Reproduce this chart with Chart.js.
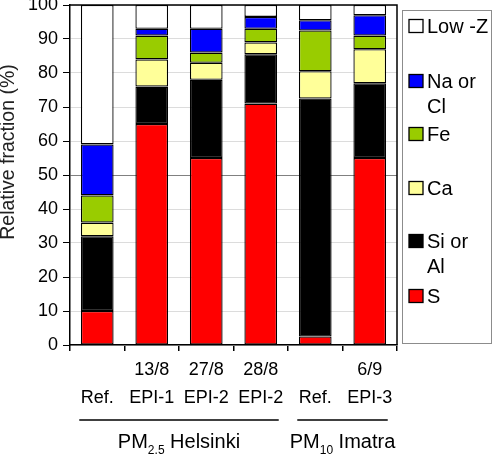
<!DOCTYPE html>
<html>
<head>
<meta charset="utf-8">
<script src="https://cdn.jsdelivr.net/npm/chart.js@4.4.1/dist/chart.umd.min.js"></script>
<style>
  html, body { margin: 0; padding: 0; background: #fff; }
  #wrap { width: 493px; height: 460px; }
</style>
</head>
<body>
<div id="wrap"><canvas id="grafico" width="493" height="460"></canvas></div>
<script>
// datos (%)
const fechas = ["", "13/8", "27/8", "28/8", "", "6/9"];
const muestras = ["Ref.", "EPI-1", "EPI-2", "EPI-2", "Ref.", "EPI-3"];
const valS = [10, 65, 55, 71, 2.5, 55];
const valSiAl = [22, 11, 23, 14.5, 70, 22];
const valCa = [4, 8, 5, 3.5, 8, 10];
const valFe = [8, 7, 3, 4, 12, 4];
const valNaCl = [15, 2, 7, 3.5, 3, 6];
const valLowZ = [41, 7, 7, 3.5, 4.5, 3];
const yTicks = [0, 10, 20, 30, 40, 50, 60, 70, 80, 90, 100];
const grupos = [
  { pm: "PM", sub: "2.5", nombre: " Helsinki", desde: 0, hasta: 3 },
  { pm: "PM", sub: "10", nombre: " Imatra", desde: 4, hasta: 5 }
];

const fuente = "'Liberation Sans', Arial, sans-serif";

const series = [
  { label: ["S"], data: valS, color: "#ff0000" },
  { label: ["Si or", "Al"], data: valSiAl, color: "#000000" },
  { label: ["Ca"], data: valCa, color: "#ffff99" },
  { label: ["Fe"], data: valFe, color: "#99cc00" },
  { label: ["Na or", "Cl"], data: valNaCl, color: "#0000ff" },
  { label: ["Low -Z"], data: valLowZ, color: "#ffffff" }
];

// borde del area, titulo y, grupos y leyenda
const extras = {
  id: "extras",
  afterDraw(chart) {
    const ctx = chart.ctx;
    const a = chart.chartArea;
    const x = chart.scales.x;
    ctx.save();
    ctx.strokeStyle = "#000";
    ctx.lineWidth = 1.5;
    ctx.beginPath();
    ctx.moveTo(a.left, a.top);
    ctx.lineTo(a.right, a.top);
    ctx.lineTo(a.right, a.bottom);
    ctx.stroke();

    // titulo eje y
    ctx.save();
    ctx.translate(14, 152);
    ctx.rotate(-Math.PI / 2);
    ctx.font = "19.5px " + fuente;
    ctx.fillStyle = "#222";
    ctx.textAlign = "center";
    ctx.textBaseline = "alphabetic";
    ctx.fillText("Relative fraction (%)", 0, 0);
    ctx.restore();

    // lineas y etiquetas de grupo
    const anchoCat = (a.right - a.left) / fechas.length;
    grupos.forEach(g => {
      const x0 = x.getPixelForValue(g.desde) - anchoCat * 0.33;
      const x1 = x.getPixelForValue(g.hasta) + anchoCat * 0.33;
      ctx.strokeStyle = "#000";
      ctx.lineWidth = 1.5;
      ctx.beginPath();
      ctx.moveTo(x0, 420);
      ctx.lineTo(x1, 420);
      ctx.stroke();
      ctx.fillStyle = "#000";
      ctx.textAlign = "left";
      ctx.textBaseline = "alphabetic";
      ctx.font = "20px " + fuente;
      const w1 = ctx.measureText(g.pm).width;
      const w3 = ctx.measureText(g.nombre).width;
      ctx.font = "12px " + fuente;
      const w2 = ctx.measureText(g.sub).width;
      let cx = (x0 + x1) / 2 - (w1 + w2 + w3) / 2;
      const base = 448;
      ctx.font = "20px " + fuente;
      ctx.fillText(g.pm, cx, base);
      cx += w1;
      ctx.font = "12px " + fuente;
      ctx.fillText(g.sub, cx, base + 6);
      cx += w2;
      ctx.font = "20px " + fuente;
      ctx.fillText(g.nombre, cx, base);
    });

    // leyenda
    ctx.strokeStyle = "#8c8c8c";
    ctx.lineWidth = 1;
    ctx.strokeRect(402.5, 10.5, 89, 333);
    const ys = [26, 81, 134, 188, 241, 296];
    const orden = series.slice().reverse();
    ctx.font = "20px " + fuente;
    ctx.textAlign = "left";
    ctx.textBaseline = "middle";
    orden.forEach((s, i) => {
      const y = ys[i];
      ctx.fillStyle = s.color;
      ctx.fillRect(409, y - 6.5, 14, 13);
      ctx.strokeStyle = "#000";
      ctx.lineWidth = 1.3;
      ctx.strokeRect(409, y - 6.5, 14, 13);
      ctx.fillStyle = "#000";
      s.label.forEach((t, j) => ctx.fillText(t, 427, y + 1 + j * 25.5));
    });
    ctx.restore();
  }
};

new Chart(document.getElementById("grafico").getContext("2d"), {
  type: "bar",
  data: {
    labels: fechas.map((f, i) => [f, muestras[i]]),
    datasets: series.map(s => ({
      label: s.label.join(" "),
      data: s.data,
      backgroundColor: s.color,
      borderColor: "#000",
      borderWidth: 1.3,
      borderSkipped: false,
      barPercentage: 0.6,
      categoryPercentage: 1
    }))
  },
  options: {
    responsive: false,
    animation: false,
    layout: { padding: { top: 5, right: 96, left: 0, bottom: 0 } },
    plugins: {
      legend: { display: false },
      tooltip: { enabled: false }
    },
    scales: {
      x: {
        stacked: true,
        afterFit: s => { s.height = 115; },
        border: { color: "#000", width: 1.5 },
        grid: {
          offset: true,
          drawOnChartArea: false,
          drawTicks: true,
          tickLength: 6,
          color: "#000",
          lineWidth: 1.5
        },
        ticks: {
          color: "#000",
          font: { family: fuente, size: 18, lineHeight: 1.556 },
          padding: 5,
          maxRotation: 0,
          autoSkip: false
        }
      },
      y: {
        stacked: true,
        min: 0,
        max: 100,
        afterFit: s => {
          s.width = 70;
          s.paddingTop = 0;
          s.paddingBottom = 0;
        },
        afterBuildTicks: s => { s.ticks = yTicks.map(v => ({ value: v })); },
        border: { color: "#000", width: 1.5 },
        grid: {
          color: c => (c.tick && c.tick.value === 50 ? "#808080" : "#dcdcdc"),
          lineWidth: 1,
          tickLength: 7,
          tickColor: "#000"
        },
        ticks: {
          color: "#000",
          font: { family: fuente, size: 18 },
          padding: 5
        }
      }
    }
  },
  plugins: [extras]
});
</script>
</body>
</html>
